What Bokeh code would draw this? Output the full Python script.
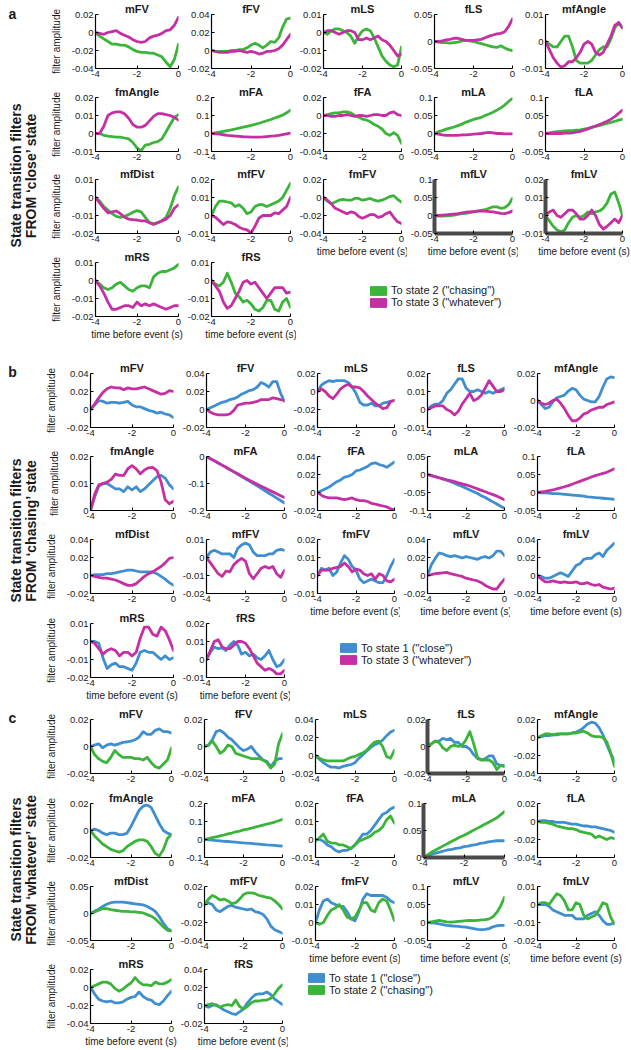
import math
from bokeh.plotting import figure
from bokeh.models import Range1d, FixedTicker, Label, Legend, LegendItem
from bokeh.layouts import row, column
from bokeh.core.properties import value
from bokeh.embed import file_html
from bokeh.resources import INLINE

# ---------------- data ----------------
TIME = [-4.0, -3.8, -3.6, -3.4, -3.2, -3.0, -2.8, -2.6, -2.4, -2.2, -2.0,
        -1.8, -1.6, -1.4, -1.2, -1.0, -0.8, -0.6, -0.4, -0.2, 0.0]
X_TICKS = [-4, -2, 0]
X_TICK_LABELS = ["-4", "-2", "0"]
NAMES = ["mFV", "fFV", "mLS", "fLS", "mfAngle",
         "fmAngle", "mFA", "fFA", "mLA", "fLA",
         "mfDist", "mfFV", "fmFV", "mfLV", "fmLV",
         "mRS", "fRS"]

A_YTICKS = {
    "mFV": ["-0.04", "-0.02", "0", "0.02"], "fFV": ["-0.02", "0", "0.02", "0.04"],
    "mLS": ["-0.02", "-0.01", "0", "0.01"], "fLS": ["-0.05", "0", "0.05"],
    "mfAngle": ["-0.01", "0", "0.01"], "fmAngle": ["-0.01", "0", "0.01", "0.02"],
    "mFA": ["-0.1", "0", "0.1", "0.2"], "fFA": ["-0.04", "-0.02", "0", "0.02"],
    "mLA": ["-0.05", "0", "0.05", "0.1"], "fLA": ["-0.05", "0", "0.05", "0.1"],
    "mfDist": ["-0.02", "-0.01", "0", "0.01"], "mfFV": ["-0.01", "0", "0.01", "0.02"],
    "fmFV": ["-0.04", "-0.02", "0", "0.02"], "mfLV": ["-0.05", "0", "0.05", "0.1"],
    "fmLV": ["-0.01", "0", "0.01", "0.02"], "mRS": ["-0.02", "-0.01", "0", "0.01"],
    "fRS": ["-0.02", "-0.01", "0", "0.01"],
}
B_YTICKS = {
    "mFV": ["-0.02", "0", "0.02", "0.04"], "fFV": ["-0.02", "0", "0.02", "0.04"],
    "mLS": ["-0.04", "-0.02", "0", "0.02"], "fLS": ["-0.01", "0", "0.01", "0.02"],
    "mfAngle": ["-0.02", "0", "0.02"], "fmAngle": ["0", "0.01", "0.02"],
    "mFA": ["-0.2", "-0.1", "0"], "fFA": ["-0.02", "0", "0.02", "0.04"],
    "mLA": ["-0.1", "-0.05", "0", "0.05"], "fLA": ["-0.05", "0", "0.05", "0.1"],
    "mfDist": ["-0.02", "0", "0.02", "0.04"], "mfFV": ["-0.02", "-0.01", "0", "0.01"],
    "fmFV": ["-0.01", "0", "0.01", "0.02"], "mfLV": ["-0.02", "0", "0.02", "0.04"],
    "fmLV": ["-0.02", "0", "0.02", "0.04"], "mRS": ["-0.02", "-0.01", "0", "0.01"],
    "fRS": ["-0.01", "0", "0.01", "0.02"],
}
C_YTICKS = {
    "mFV": ["-0.02", "0", "0.02"], "fFV": ["-0.02", "0", "0.02"],
    "mLS": ["-0.02", "0", "0.02", "0.04"], "fLS": ["-0.02", "0", "0.02"],
    "mfAngle": ["-0.04", "-0.02", "0", "0.02"], "fmAngle": ["-0.02", "0", "0.02"],
    "mFA": ["-0.1", "0", "0.1", "0.2"], "fFA": ["-0.01", "0", "0.01", "0.02"],
    "mLA": ["0", "0.05", "0.1"], "fLA": ["-0.04", "-0.02", "0", "0.02"],
    "mfDist": ["-0.05", "0", "0.05"], "mfFV": ["-0.04", "-0.02", "0", "0.02"],
    "fmFV": ["-0.01", "0", "0.01", "0.02"], "mfLV": ["-0.05", "0", "0.05", "0.1"],
    "fmLV": ["-0.02", "-0.01", "0", "0.01"], "mRS": ["-0.04", "-0.02", "0", "0.02"],
    "fRS": ["-0.02", "0", "0.02", "0.04"],
}

# panel a: from 'close' state -> state 2 (green), state 3 (magenta)
A_TO2 = {
    "mFV": [0, -0.004, -0.007, -0.010, -0.013, -0.013, -0.014, -0.014, -0.016, -0.019, -0.021, -0.022, -0.022, -0.023, -0.023, -0.025, -0.027, -0.033, -0.038, -0.030, -0.013],
    "fFV": [0, -0.001, -0.001, -0.001, -0.001, 0, 0, 0.001, 0.001, 0.003, 0.006, 0.008, 0.006, 0.003, 0.006, 0.010, 0.009, 0.014, 0.026, 0.035, 0.036],
    "mLS": [0, -0.001, 0.001, 0.002, 0.002, 0.001, 0.000, -0.002, -0.006, -0.002, 0.001, 0.002, 0.001, -0.003, -0.008, -0.013, -0.016, -0.018, -0.019, -0.018, -0.008],
    "fLS": [0, -0.001, -0.002, -0.002, -0.003, -0.002, -0.001, 0.001, 0.002, 0.001, 0.000, -0.002, -0.004, -0.006, -0.008, -0.010, -0.011, -0.008, -0.012, -0.015, -0.017],
    "mfAngle": [0, -0.001, -0.002, -0.002, 0.000, 0.002, 0.002, -0.002, -0.007, -0.008, -0.008, -0.008, -0.007, -0.005, -0.003, -0.002, -0.002, 0.001, 0.005, 0.007, 0.005],
    "fmAngle": [0, 0.000, -0.001, -0.0015, -0.0017, -0.002, -0.002, -0.0025, -0.003, -0.005, -0.008, -0.0095, -0.0065, -0.006, -0.005, -0.0045, -0.003, 0.001, 0.005, 0.009, 0.0105],
    "mFA": [0.000, 0.004, 0.008, 0.012, 0.016, 0.020, 0.025, 0.030, 0.035, 0.040, 0.045, 0.051, 0.057, 0.064, 0.071, 0.078, 0.086, 0.094, 0.102, 0.115, 0.130],
    "fFA": [0, 0.001, 0.002, 0.003, 0.003, 0.004, 0.004, 0.003, 0.000, -0.002, -0.004, -0.005, -0.007, -0.010, -0.012, -0.015, -0.020, -0.022, -0.019, -0.022, -0.031],
    "mLA": [0.000, 0.005, 0.008, 0.012, 0.015, 0.018, 0.022, 0.026, 0.031, 0.035, 0.039, 0.042, 0.045, 0.050, 0.054, 0.059, 0.065, 0.071, 0.079, 0.089, 0.098],
    "fLA": [0.000, 0.002, 0.004, 0.005, 0.006, 0.007, 0.008, 0.008, 0.009, 0.010, 0.012, 0.014, 0.017, 0.020, 0.022, 0.025, 0.028, 0.031, 0.034, 0.037, 0.040],
    "mfDist": [0.000, -0.002, -0.005, -0.007, -0.009, -0.0105, -0.011, -0.0105, -0.0095, -0.0082, -0.0073, -0.008, -0.011, -0.014, -0.0145, -0.014, -0.013, -0.011, -0.006, 0.001, 0.006],
    "mfFV": [0.000, 0.005, 0.008, 0.008, 0.0075, 0.007, 0.005, 0.006, 0.004, 0.001, 0.002, 0.005, 0.006, 0.006, 0.005, 0.006, 0.007, 0.008, 0.010, 0.014, 0.018],
    "fmFV": [0.000, -0.004, -0.007, -0.005, -0.003, -0.002, -0.003, -0.003, -0.001, -0.001, -0.003, -0.002, -0.001, -0.003, -0.004, -0.003, -0.001, 0.001, 0.002, -0.002, -0.005],
    "mfLV": [0.000, -0.002, -0.002, -0.001, 0.000, 0.001, 0.003, 0.005, 0.006, 0.008, 0.010, 0.012, 0.014, 0.016, 0.020, 0.024, 0.024, 0.020, 0.022, 0.030, 0.048],
    "fmLV": [0.000, -0.003, -0.006, -0.008, -0.009, -0.008, -0.004, -0.001, 0.000, -0.001, 0.000, 0.002, 0.001, 0.002, 0.0025, 0.004, 0.007, 0.012, 0.013, 0.007, 0.000],
    "mRS": [0.000, -0.002, -0.004, -0.005, -0.004, -0.002, -0.001, -0.003, -0.005, -0.006, -0.004, -0.003, -0.003, -0.004, 0.002, 0.004, 0.005, 0.005, 0.006, 0.007, 0.009],
    "fRS": [0.000, -0.002, -0.003, -0.001, 0.004, -0.001, -0.007, -0.009, -0.012, -0.011, -0.013, -0.016, -0.017, -0.015, -0.011, -0.011, -0.016, -0.017, -0.012, -0.010, -0.015],
}
A_TO3 = {
    "mFV": [0, -0.001, -0.002, 0.000, 0.001, 0.002, -0.001, -0.003, -0.005, -0.008, -0.010, -0.011, -0.010, -0.006, -0.004, -0.003, -0.001, 0.002, 0.003, 0.008, 0.017],
    "fFV": [0, -0.001, -0.002, -0.002, -0.002, -0.001, -0.001, 0, -0.001, -0.002, -0.001, -0.002, -0.004, -0.003, -0.001, -0.001, 0.000, 0.002, 0.006, 0.012, 0.018],
    "mLS": [0, 0.001, 0.001, 0.000, -0.001, 0.000, 0.001, 0.001, 0.000, -0.004, -0.004, -0.003, -0.004, -0.003, -0.002, -0.004, -0.005, -0.007, -0.010, -0.013, -0.012],
    "fLS": [0, 0, 0.001, 0.003, 0.004, 0.006, 0.006, 0.004, 0.002, 0.002, 0.002, 0.003, 0.004, 0.007, 0.010, 0.012, 0.014, 0.015, 0.018, 0.028, 0.042],
    "mfAngle": [0, -0.003, -0.006, -0.008, -0.0095, -0.009, -0.0075, -0.0075, -0.006, -0.004, -0.001, 0.000, -0.001, -0.004, -0.005, -0.004, -0.001, 0.002, 0.006, 0.007, 0.005],
    "fmAngle": [0, 0.000, 0.004, 0.010, 0.0115, 0.012, 0.012, 0.011, 0.0085, 0.005, 0.0035, 0.0035, 0.0045, 0.007, 0.0095, 0.011, 0.011, 0.0105, 0.010, 0.009, 0.0075],
    "mFA": [0.000, -0.002, -0.004, -0.007, -0.010, -0.012, -0.014, -0.016, -0.018, -0.019, -0.020, -0.020, -0.020, -0.019, -0.017, -0.015, -0.013, -0.010, -0.006, -0.002, 0.002],
    "fFA": [0, 0.000, -0.001, -0.001, 0.000, 0.000, 0.001, 0.000, -0.001, 0.000, 0.000, -0.001, 0.000, 0.001, 0.001, 0.000, 0.000, 0.003, 0.004, 0.001, 0.000],
    "mLA": [0.000, -0.002, -0.004, -0.005, -0.005, -0.005, -0.005, -0.004, -0.004, -0.003, -0.002, -0.001, 0.000, 0.002, 0.003, 0.002, 0.000, 0.000, -0.001, -0.001, -0.001],
    "fLA": [0.000, 0.000, 0.000, 0.000, 0.000, 0.001, 0.001, 0.002, 0.004, 0.006, 0.009, 0.013, 0.017, 0.021, 0.025, 0.029, 0.034, 0.040, 0.047, 0.056, 0.065],
    "mfDist": [0.000, -0.003, -0.006, -0.0085, -0.008, -0.0075, -0.009, -0.011, -0.012, -0.0123, -0.0125, -0.013, -0.013, -0.014, -0.015, -0.014, -0.013, -0.012, -0.010, -0.006, -0.004],
    "mfFV": [0.000, -0.001, -0.003, -0.005, -0.0035, -0.004, -0.005, -0.0065, -0.0075, -0.008, -0.0098, -0.006, -0.0015, 0.000, 0.000, 0.000, 0.0015, 0.001, 0.003, 0.005, 0.010],
    "fmFV": [0.000, -0.003, -0.007, -0.012, -0.014, -0.016, -0.018, -0.016, -0.017, -0.021, -0.023, -0.021, -0.019, -0.019, -0.022, -0.021, -0.018, -0.016, -0.022, -0.027, -0.029],
    "mfLV": [0.000, 0.000, 0.001, 0.002, 0.003, 0.004, 0.005, 0.007, 0.009, 0.010, 0.011, 0.012, 0.013, 0.012, 0.011, 0.010, 0.008, 0.006, 0.005, 0.008, 0.013],
    "fmLV": [0.000, 0.002, 0.003, 0.000, -0.001, 0.001, 0.003, 0.003, 0.001, -0.002, -0.002, 0.000, 0.003, 0.000, -0.005, -0.0075, -0.006, -0.004, -0.002, -0.004, 0.000],
    "mRS": [0.000, -0.003, -0.007, -0.012, -0.016, -0.016, -0.015, -0.014, -0.014, -0.015, -0.012, -0.014, -0.013, -0.014, -0.013, -0.014, -0.015, -0.016, -0.015, -0.014, -0.014],
    "fRS": [0.000, -0.003, -0.006, -0.012, -0.0155, -0.014, -0.010, -0.006, -0.001, 0.000, -0.002, -0.001, -0.004, -0.007, -0.010, -0.007, -0.004, -0.004, -0.004, -0.007, -0.0065],
}

# panel b: from 'chasing' state -> state 1 (blue), state 3 (magenta)
B_TO1 = {
    "mFV": [0.000, 0.005, 0.010, 0.009, 0.007, 0.008, 0.008, 0.007, 0.008, 0.009, 0.005, 0.003, 0.003, 0.001, -0.001, -0.002, -0.004, -0.003, -0.005, -0.006, -0.009],
    "fFV": [0.000, 0.002, 0.004, 0.006, 0.008, 0.009, 0.011, 0.012, 0.014, 0.017, 0.019, 0.021, 0.022, 0.025, 0.030, 0.028, 0.025, 0.031, 0.031, 0.018, 0.009],
    "mLS": [0.000, 0.007, 0.010, 0.012, 0.011, 0.012, 0.012, 0.012, 0.010, 0.005, -0.002, -0.012, -0.015, -0.015, -0.013, -0.016, -0.016, -0.013, -0.012, -0.011, -0.010],
    "fLS": [0.000, 0.002, 0.003, 0.003, 0.005, 0.009, 0.011, 0.014, 0.017, 0.017, 0.012, 0.010, 0.010, 0.011, 0.010, 0.009, 0.010, 0.009, 0.010, 0.011, 0.012],
    "mfAngle": [0.000, -0.003, -0.006, -0.005, -0.001, 0.002, 0.003, 0.004, 0.007, 0.009, 0.008, 0.004, 0.001, 0.000, -0.001, -0.001, 0.003, 0.010, 0.016, 0.0175, 0.017],
    "fmAngle": [0.000, 0.005, 0.009, 0.010, 0.010, 0.009, 0.008, 0.008, 0.007, 0.0088, 0.0076, 0.0088, 0.007, 0.008, 0.0095, 0.011, 0.0125, 0.013, 0.012, 0.0095, 0.008],
    "mFA": [0.000, -0.008, -0.016, -0.024, -0.032, -0.040, -0.049, -0.057, -0.066, -0.074, -0.083, -0.091, -0.100, -0.109, -0.118, -0.127, -0.136, -0.145, -0.154, -0.163, -0.172],
    "fFA": [0.000, 0.002, 0.004, 0.006, 0.009, 0.012, 0.014, 0.017, 0.018, 0.020, 0.024, 0.025, 0.027, 0.029, 0.032, 0.033, 0.031, 0.030, 0.028, 0.031, 0.034],
    "mLA": [0.000, -0.003, -0.006, -0.009, -0.012, -0.016, -0.020, -0.024, -0.029, -0.033, -0.038, -0.043, -0.048, -0.053, -0.059, -0.064, -0.070, -0.076, -0.082, -0.088, -0.094],
    "fLA": [0.000, -0.001, -0.001, -0.002, -0.003, -0.003, -0.004, -0.005, -0.006, -0.007, -0.008, -0.009, -0.010, -0.012, -0.013, -0.014, -0.015, -0.016, -0.017, -0.018, -0.019],
    "mfDist": [0.000, 0.001, 0.001, 0.001, 0.002, 0.002, 0.003, 0.004, 0.005, 0.006, 0.006, 0.005, 0.004, 0.004, 0.004, 0.004, 0.002, -0.001, -0.004, -0.008, -0.011],
    "mfFV": [0.000, 0.003, 0.004, 0.003, 0.002, 0.002, 0.002, 0.000, 0.005, 0.007, 0.008, 0.007, 0.003, 0.001, 0.001, 0.001, 0.002, 0.002, 0.004, 0.0045, 0.004],
    "fmFV": [0.000, 0.004, 0.003, 0.004, 0.000, 0.002, 0.007, 0.011, 0.009, 0.005, 0.003, -0.002, -0.004, -0.003, -0.002, -0.003, -0.004, -0.004, 0.000, 0.005, 0.009],
    "mfLV": [0.000, 0.012, 0.019, 0.025, 0.024, 0.022, 0.021, 0.022, 0.021, 0.0195, 0.021, 0.020, 0.019, 0.018, 0.020, 0.021, 0.0195, 0.022, 0.027, 0.027, 0.022],
    "fmLV": [0.000, -0.001, -0.003, -0.003, -0.001, 0.001, 0.003, 0.001, -0.001, 0.005, 0.011, 0.013, 0.018, 0.019, 0.019, 0.023, 0.025, 0.021, 0.028, 0.032, 0.036],
    "mRS": [0.000, 0.000, -0.001, -0.009, -0.015, -0.013, -0.012, -0.014, -0.014, -0.015, -0.016, -0.012, -0.006, -0.005, -0.006, -0.006, -0.008, -0.010, -0.008, -0.010, -0.009],
    "fRS": [0.000, 0.004, 0.007, 0.006, 0.0065, 0.005, 0.008, 0.010, 0.008, 0.003, 0.004, 0.002, 0.003, 0.001, 0.000, 0.002, 0.005, 0.000, -0.004, -0.003, 0.000],
}
B_TO3 = {
    "mFV": [0.000, 0.006, 0.013, 0.019, 0.023, 0.025, 0.024, 0.024, 0.022, 0.024, 0.023, 0.023, 0.024, 0.025, 0.023, 0.021, 0.019, 0.017, 0.018, 0.021, 0.020],
    "fFV": [0.000, -0.003, -0.005, -0.006, -0.006, -0.006, -0.005, -0.001, 0.005, 0.006, 0.007, 0.007, 0.008, 0.009, 0.011, 0.011, 0.011, 0.013, 0.012, 0.011, 0.010],
    "mLS": [0.000, 0.003, 0.000, -0.005, -0.008, -0.003, 0.003, 0.006, 0.008, 0.005, 0.005, 0.004, 0.000, -0.005, -0.009, -0.013, -0.016, -0.019, -0.018, -0.011, -0.010],
    "fLS": [0.000, 0.001, 0.002, 0.002, 0.002, 0.000, -0.001, -0.003, -0.001, 0.003, 0.006, 0.009, 0.005, 0.006, 0.008, 0.012, 0.016, 0.013, 0.010, 0.010, 0.011],
    "mfAngle": [0.000, -0.002, -0.003, -0.002, 0.000, 0.001, -0.002, -0.006, -0.011, -0.015, -0.015, -0.013, -0.010, -0.009, -0.007, -0.006, -0.005, -0.005, -0.003, -0.002, -0.001],
    "fmAngle": [0.000, 0.006, 0.0095, 0.010, 0.0105, 0.0115, 0.0135, 0.013, 0.013, 0.0155, 0.0166, 0.0154, 0.0136, 0.015, 0.0158, 0.016, 0.0148, 0.0106, 0.004, 0.0025, 0.0035],
    "mFA": [0.000, -0.008, -0.016, -0.024, -0.032, -0.040, -0.048, -0.056, -0.064, -0.072, -0.080, -0.088, -0.095, -0.103, -0.110, -0.117, -0.124, -0.131, -0.138, -0.145, -0.152],
    "fFA": [0.000, -0.003, -0.005, -0.006, -0.006, -0.006, -0.007, -0.008, -0.007, -0.006, -0.008, -0.009, -0.009, -0.010, -0.012, -0.013, -0.014, -0.015, -0.016, -0.018, -0.0195],
    "mLA": [0.000, -0.003, -0.006, -0.009, -0.012, -0.015, -0.017, -0.020, -0.023, -0.026, -0.029, -0.032, -0.036, -0.040, -0.044, -0.048, -0.052, -0.056, -0.060, -0.065, -0.070],
    "fLA": [0.000, 0.002, 0.003, 0.005, 0.007, 0.010, 0.013, 0.016, 0.019, 0.023, 0.027, 0.031, 0.035, 0.039, 0.043, 0.047, 0.050, 0.053, 0.056, 0.061, 0.066],
    "mfDist": [0.000, -0.001, -0.002, -0.003, -0.003, -0.004, -0.005, -0.007, -0.009, -0.011, -0.011, -0.009, -0.005, -0.001, 0.002, 0.004, 0.007, 0.010, 0.014, 0.019, 0.020],
    "mfFV": [0.000, -0.003, -0.006, -0.009, -0.0105, -0.0075, -0.008, -0.004, -0.002, -0.0005, -0.002, -0.009, -0.0118, -0.009, -0.006, -0.005, -0.006, -0.005, -0.009, -0.011, -0.007],
    "fmFV": [0.000, 0.003, 0.003, 0.003, 0.004, 0.0045, 0.005, 0.007, 0.005, 0.002, 0.0036, 0.003, 0.001, 0.000, 0.001, -0.002, 0.001, 0.000, -0.003, -0.0035, -0.002],
    "mfLV": [0.000, 0.001, 0.002, 0.0025, 0.003, 0.0035, 0.002, 0.001, 0.000, -0.001, -0.003, -0.004, -0.005, -0.006, -0.008, -0.011, -0.013, -0.015, -0.015, -0.009, -0.004],
    "fmLV": [0.000, -0.004, -0.007, -0.007, -0.006, -0.007, -0.008, -0.007, -0.008, -0.008, -0.007, -0.009, -0.009, -0.008, -0.010, -0.011, -0.010, -0.013, -0.014, -0.015, -0.014],
    "mRS": [0.000, -0.001, -0.004, -0.007, -0.005, -0.004, -0.005, -0.008, -0.006, -0.006, -0.008, -0.006, 0.002, 0.008, 0.008, 0.004, 0.003, 0.008, 0.006, 0.001, -0.005],
    "fRS": [0.000, 0.005, 0.010, 0.011, 0.007, 0.006, 0.006, 0.008, 0.010, 0.010, 0.009, 0.006, 0.002, -0.002, -0.004, -0.006, -0.005, -0.006, -0.008, -0.008, -0.006],
}

# panel c: from 'whatever' state -> state 1 (blue), state 2 (green)
C_TO1 = {
    "mFV": [0.000, 0.001, 0.002, -0.001, 0.001, 0.002, 0.001, 0.002, 0.003, 0.0035, 0.004, 0.005, 0.007, 0.011, 0.009, 0.009, 0.012, 0.013, 0.011, 0.011, 0.010],
    "fFV": [0.000, 0.001, 0.005, 0.011, 0.012, 0.010, 0.007, 0.005, 0.002, -0.001, -0.003, -0.002, 0.000, -0.004, -0.007, -0.010, -0.011, -0.015, -0.011, -0.009, -0.009],
    "mLS": [0.000, -0.004, -0.008, -0.011, -0.013, -0.013, -0.014, -0.012, -0.011, -0.010, -0.008, -0.003, 0.001, 0.005, 0.009, 0.012, 0.014, 0.017, 0.022, 0.026, 0.028],
    "fLS": [0.000, 0.002, 0.004, 0.004, 0.006, 0.005, 0.006, 0.003, 0.003, 0.000, 0.000, -0.002, -0.006, -0.009, -0.010, -0.009, -0.007, -0.007, -0.013, -0.014, -0.014],
    "mfAngle": [0.000, 0.001, 0.002, 0.002, 0.003, 0.003, 0.004, 0.004, 0.004, 0.005, 0.006, 0.008, 0.011, 0.015, 0.017, 0.016, 0.011, 0.003, -0.008, -0.018, -0.026],
    "fmAngle": [0.000, 0.001, 0.000, -0.002, -0.003, -0.002, -0.002, -0.003, -0.003, -0.002, 0.003, 0.009, 0.015, 0.018, 0.019, 0.017, 0.011, 0.005, 0.000, -0.002, -0.003],
    "mFA": [0.000, -0.002, -0.004, -0.006, -0.008, -0.010, -0.011, -0.013, -0.015, -0.017, -0.019, -0.020, -0.022, -0.024, -0.026, -0.028, -0.030, -0.031, -0.033, -0.035, -0.036],
    "fFA": [0.000, 0.000, -0.001, -0.003, -0.004, -0.006, -0.007, -0.006, -0.006, -0.005, -0.003, 0.000, 0.003, 0.003, 0.005, 0.008, 0.011, 0.014, 0.015, 0.017, 0.018],
    "mLA": [0.000, 0.003, 0.006, 0.008, 0.010, 0.012, 0.014, 0.015, 0.017, 0.018, 0.020, 0.021, 0.023, 0.024, 0.026, 0.027, 0.029, 0.030, 0.031, 0.031, 0.031],
    "fLA": [0.000, 0.001, 0.001, 0.000, 0.000, -0.001, -0.001, -0.001, -0.002, -0.003, -0.003, -0.004, -0.005, -0.005, -0.006, -0.006, -0.007, -0.008, -0.009, -0.010, -0.012],
    "mfDist": [0.000, 0.004, 0.008, 0.013, 0.017, 0.020, 0.021, 0.021, 0.021, 0.020, 0.019, 0.018, 0.017, 0.016, 0.013, 0.009, 0.004, -0.006, -0.018, -0.028, -0.032],
    "mfFV": [0.000, 0.002, 0.000, -0.006, -0.008, -0.005, -0.002, -0.001, -0.003, -0.004, -0.005, -0.006, -0.005, -0.008, -0.009, -0.011, -0.016, -0.024, -0.028, -0.030, -0.032],
    "fmFV": [0.000, 0.007, 0.012, 0.013, 0.011, 0.010, 0.009, 0.009, 0.006, 0.002, 0.001, 0.006, 0.013, 0.016, 0.015, 0.015, 0.015, 0.015, 0.014, 0.012, 0.011],
    "mfLV": [0.000, -0.001, -0.002, -0.004, -0.006, -0.008, -0.009, -0.010, -0.011, -0.012, -0.013, -0.015, -0.017, -0.019, -0.020, -0.019, -0.017, -0.012, -0.009, -0.008, -0.008],
    "fmLV": [0.000, 0.000, 0.000, -0.001, -0.003, -0.004, -0.005, -0.006, -0.006, -0.006, -0.008, -0.008, -0.008, -0.006, -0.005, -0.004, -0.006, -0.009, -0.011, -0.011, -0.010],
    "mRS": [0.000, -0.007, -0.013, -0.015, -0.016, -0.015, -0.017, -0.017, -0.016, -0.013, -0.011, -0.010, -0.005, -0.010, -0.013, -0.014, -0.018, -0.019, -0.015, -0.009, -0.004],
    "fRS": [0.000, -0.002, 0.000, 0.001, -0.002, -0.005, -0.007, -0.009, -0.010, -0.007, -0.004, 0.003, 0.008, 0.012, 0.013, 0.013, 0.015, 0.012, 0.007, 0.004, 0.001],
}
C_TO2 = {
    "mFV": [0.000, -0.006, -0.009, -0.011, -0.012, -0.008, -0.003, -0.006, -0.008, -0.008, -0.008, -0.009, -0.009, -0.010, -0.008, -0.012, -0.015, -0.016, -0.013, -0.010, -0.001],
    "fFV": [0.000, 0.001, 0.004, 0.000, -0.005, -0.003, 0.001, 0.000, -0.005, -0.006, -0.007, -0.008, -0.009, -0.009, -0.009, -0.010, -0.012, -0.016, -0.013, 0.002, 0.0095],
    "mLS": [0.000, -0.003, -0.005, -0.006, -0.006, -0.006, -0.006, -0.006, -0.004, -0.002, -0.001, 0.001, 0.003, 0.006, 0.011, 0.015, 0.016, 0.010, -0.001, -0.003, 0.006],
    "fLS": [0.000, 0.002, 0.004, 0.003, -0.001, -0.003, 0.000, 0.001, 0.000, 0.001, 0.005, 0.011, 0.002, -0.008, -0.010, -0.010, -0.010, -0.012, -0.017, -0.014, -0.015],
    "mfAngle": [0.000, 0.002, 0.004, 0.004, 0.003, 0.004, 0.004, 0.004, 0.004, 0.005, 0.005, 0.006, 0.007, 0.005, 0.002, 0.001, 0.001, 0.000, -0.005, -0.017, -0.032],
    "fmAngle": [0.000, -0.004, -0.007, -0.010, -0.012, -0.014, -0.015, -0.016, -0.015, -0.012, -0.010, -0.008, -0.007, -0.007, -0.008, -0.012, -0.017, -0.019, -0.014, -0.006, -0.003],
    "mFA": [0.000, 0.005, 0.010, 0.015, 0.020, 0.025, 0.031, 0.036, 0.042, 0.047, 0.053, 0.058, 0.063, 0.069, 0.074, 0.080, 0.086, 0.091, 0.097, 0.104, 0.112],
    "fFA": [-0.001, 0.001, 0.003, -0.001, -0.002, -0.002, -0.003, -0.003, -0.004, -0.005, -0.003, -0.001, 0.000, 0.001, 0.002, 0.004, 0.005, 0.007, 0.011, 0.013, 0.009],
    "mLA": [0.000, 0.005, 0.010, 0.014, 0.018, 0.022, 0.026, 0.030, 0.034, 0.038, 0.041, 0.045, 0.049, 0.053, 0.057, 0.061, 0.065, 0.069, 0.073, 0.079, 0.085],
    "fLA": [0.000, -0.001, -0.001, -0.002, -0.003, -0.005, -0.006, -0.007, -0.008, -0.008, -0.009, -0.011, -0.012, -0.013, -0.014, -0.018, -0.016, -0.018, -0.020, -0.018, -0.019],
    "mfDist": [0.000, 0.003, 0.006, 0.009, 0.009, 0.007, 0.006, 0.005, 0.004, 0.004, 0.003, 0.003, 0.002, 0.001, -0.002, -0.005, -0.010, -0.017, -0.025, -0.031, -0.032],
    "mfFV": [0.000, 0.006, 0.010, 0.008, 0.005, 0.006, 0.004, 0.001, 0.002, 0.006, 0.011, 0.013, 0.013, 0.012, 0.010, 0.009, 0.008, 0.007, 0.004, 0.000, -0.005],
    "fmFV": [0.000, -0.001, 0.000, 0.004, 0.007, 0.008, 0.010, 0.007, 0.003, 0.002, 0.003, 0.007, 0.011, 0.011, 0.007, 0.006, 0.011, 0.013, 0.012, 0.007, 0.001],
    "mfLV": [0.000, 0.002, 0.004, 0.006, 0.004, 0.002, 0.001, 0.002, 0.003, 0.004, 0.005, 0.006, 0.005, 0.006, 0.007, 0.008, 0.010, 0.016, 0.028, 0.046, 0.070],
    "fmLV": [0.000, 0.001, 0.001, 0.000, 0.003, 0.006, 0.005, 0.002, -0.003, -0.003, 0.001, 0.000, -0.006, -0.008, -0.007, -0.006, -0.003, 0.001, 0.000, -0.007, -0.011],
    "mRS": [0.000, 0.002, 0.004, 0.006, 0.006, 0.004, -0.001, -0.004, -0.002, 0.002, 0.005, 0.011, 0.006, 0.003, 0.003, 0.002, 0.006, 0.004, 0.004, 0.006, 0.009],
    "fRS": [0.000, 0.001, 0.002, 0.000, -0.002, 0.000, 0.001, 0.000, 0.006, -0.001, -0.004, -0.001, 0.003, 0.005, 0.005, 0.006, 0.006, 0.008, 0.013, 0.019, 0.023],
}

# ---------------- styling / layout ----------------
GREEN = "#3bb43a"
MAGENTA = "#c62fa3"
BLUE = "#3f8ecf"
FONT = "Liberation Sans"
LW = 2.8
FH = 54          # frame height
EXTRA = 14       # extra bottom room for x label on row 3, cols 3-5
RB = 6           # right border of each sub plot
TEXT_C = "#1a1a1a"


def style_axis(ax, thick):
    ax.major_tick_in = 3
    ax.major_tick_out = 0
    ax.minor_tick_line_color = None
    ax.major_tick_line_color = "black"
    ax.axis_line_color = "#4a4a4a" if thick else "black"
    ax.axis_line_width = 4 if thick else 1.2
    ax.major_label_text_font = FONT
    ax.major_label_text_font_size = "9.5px"
    ax.major_label_text_color = TEXT_C
    ax.major_label_standoff = 2
    ax.axis_label_text_font = FONT
    ax.axis_label_text_font_size = "10px"
    ax.axis_label_text_font_style = "normal"
    ax.axis_label_text_color = TEXT_C


def make_sub(name, yt, s1, s2, c1, c2, w, h, lb, rb, tb, bb, xlab, ylab, thick):
    yv = [float(v) for v in yt]
    p = figure(width=w, height=h, x_range=Range1d(-4, 0), y_range=Range1d(yv[0], yv[-1]),
               output_backend="svg", toolbar_location=None, title=name,
               min_border_left=lb, min_border_right=rb, min_border_top=tb, min_border_bottom=bb)
    p.outline_line_color = None
    p.xgrid.visible = False
    p.ygrid.visible = False
    p.title.align = "center"
    p.title.standoff = 0
    p.title.text_font = FONT
    p.title.text_font_size = "11px"
    p.title.text_font_style = "bold"
    p.title.text_color = TEXT_C
    p.xaxis.ticker = FixedTicker(ticks=X_TICKS)
    p.xaxis.major_label_overrides = {float(t): l for t, l in zip(X_TICKS, X_TICK_LABELS)}
    p.yaxis.ticker = FixedTicker(ticks=yv)
    p.yaxis.major_label_overrides = {v: s for v, s in zip(yv, yt)}
    style_axis(p.xaxis[0], thick)
    style_axis(p.yaxis[0], thick)
    if xlab:
        p.xaxis.axis_label = "time before event (s)"
        p.xaxis.axis_label_standoff = 1
    if ylab:
        p.yaxis.axis_label = "filter amplitude"
        p.yaxis.axis_label_standoff = 7
    p.line(TIME, s1, line_color=c1, line_width=LW, line_join="round", line_cap="round")
    p.line(TIME, s2, line_color=c2, line_width=LW, line_join="round", line_cap="round")
    return p


def make_side(letter, line2, height, label_cy):
    s = figure(width=42, height=height, x_range=Range1d(0, 42), y_range=Range1d(height, 0),
               x_axis_type=None, y_axis_type=None, min_border=0,
               output_backend="svg", toolbar_location=None)
    s.outline_line_color = None
    s.add_layout(Label(x=12, y=13, text=letter, text_font=FONT, text_font_size="14px",
                       text_font_style="bold", text_align="center", text_baseline="middle",
                       text_color=TEXT_C))
    for xx, txt in ((15, "State transition filters"), (30, line2)):
        s.add_layout(Label(x=xx, y=label_cy, text=txt, angle=math.pi / 2, text_font=FONT,
                           text_font_size="14px", text_font_style="bold",
                           text_align="center", text_baseline="middle", text_color=TEXT_C))
    return s


def make_legend_fig(w, h, entries, x0, top):
    lg = figure(width=w, height=h, x_range=Range1d(0, 1), y_range=Range1d(0, 1),
                x_axis_type=None, y_axis_type=None, min_border=0,
                output_backend="svg", toolbar_location=None)
    lg.outline_line_color = None
    items = []
    for lab, col in entries:
        # placeholder renderer (outside the visible range) that only feeds the legend swatch
        r = lg.quad(left=[5], right=[6], top=[6], bottom=[5], fill_color=col, line_color=col)
        items.append(LegendItem(label=value(lab), renderers=[r]))
    leg = Legend(items=items, location=(x0, h - top - 22), orientation="vertical",
                 glyph_width=20, glyph_height=11, label_height=11, spacing=0,
                 padding=0, margin=0, border_line_color=None, background_fill_alpha=0,
                 label_text_font=FONT, label_text_font_size="11px", label_text_color=TEXT_C,
                 label_text_line_height=1.0, label_standoff=3)
    lg.add_layout(leg)
    return lg


def build_panel(letter, line2, yticks, s1, s2, c1, c2, entries, geom, thick_set):
    tops = [t - b for t, b in zip(geom["frame_tops"], geom["top_borders"])]
    hs = [tops[i + 1] - tops[i] for i in range(3)] + [geom["end"] - tops[3]]
    L = geom["lefts"]
    fw = geom["fw"]
    B = [42] + [L[i] + fw + RB for i in range(4)] + [631]
    cols = [[] for _ in range(5)]
    for idx, name in enumerate(NAMES):
        r, c = divmod(idx, 5)
        w = B[c + 1] - B[c]
        lb = L[c] - B[c]
        rb = B[c + 1] - (L[c] + fw)
        tb = geom["top_borders"][r]
        h = hs[r]
        xlab = (r == 3) or (r == 2 and c >= 2)
        if r == 2 and c >= 2:
            h += EXTRA
        bb = h - tb - FH
        cols[c].append(make_sub(name, yticks[name], s1[name], s2[name], c1, c2,
                                w, h, lb, rb, tb, bb, xlab, c == 0, name in thick_set))
    side = make_side(letter, line2, geom["end"] - tops[0], geom["label_cy"])
    lg = make_legend_fig(631 - B[2], hs[3] - EXTRA, entries,
                         geom["legend_sx"] - 2 - B[2],
                         geom["legend_cy"] - 5.5 - (tops[2] + hs[2] + EXTRA))
    col1 = column(*cols[0])
    col2 = column(*cols[1])
    col345 = column(row(cols[2][0], cols[3][0], cols[4][0]),
                    row(cols[2][1], cols[3][1], cols[4][1]),
                    row(cols[2][2], cols[3][2], cols[4][2]),
                    lg)
    return row(side, col1, col2, col345)


GEOM_A = dict(frame_tops=[14, 97, 179, 262], top_borders=[14, 15, 15, 15], end=358,
              lefts=[95, 207, 318, 429, 539], fw=83, legend_sx=370, legend_cy=291.7, label_cy=175)
GEOM_B = dict(frame_tops=[373, 456, 539, 623], top_borders=[15, 15, 15, 15], end=704,
              lefts=[89, 200, 310, 420, 530], fw=84, legend_sx=340, legend_cy=649.3, label_cy=172)
GEOM_C = dict(frame_tops=[719, 803, 886, 969], top_borders=[15, 15, 15, 15], end=1050,
              lefts=[87, 198, 310, 420, 530], fw=84, legend_sx=308, legend_cy=979.3, label_cy=165)

panel_a = build_panel("a", "FROM \u2018close\u2019 state", A_YTICKS, A_TO2, A_TO3, GREEN, MAGENTA,
                      [('To state 2 ("chasing")', GREEN), ('To state 3 ("whatever")', MAGENTA)],
                      GEOM_A, {"mfLV", "fmLV"})
panel_b = build_panel("b", "FROM \u2018chasing\u2019 state", B_YTICKS, B_TO1, B_TO3, BLUE, MAGENTA,
                      [('To state 1 ("close")', BLUE), ('To state 3 ("whatever")', MAGENTA)],
                      GEOM_B, set())
panel_c = build_panel("c", "FROM \u2018whatever\u2019 state", C_YTICKS, C_TO1, C_TO2, BLUE, GREEN,
                      [('To state 1 ("close")', BLUE), ('To state 2 ("chasing")', GREEN)],
                      GEOM_C, {"fLS", "mLA"})

page = column(panel_a, panel_b, panel_c)

open("out.html", "w").write(file_html(page, INLINE))
